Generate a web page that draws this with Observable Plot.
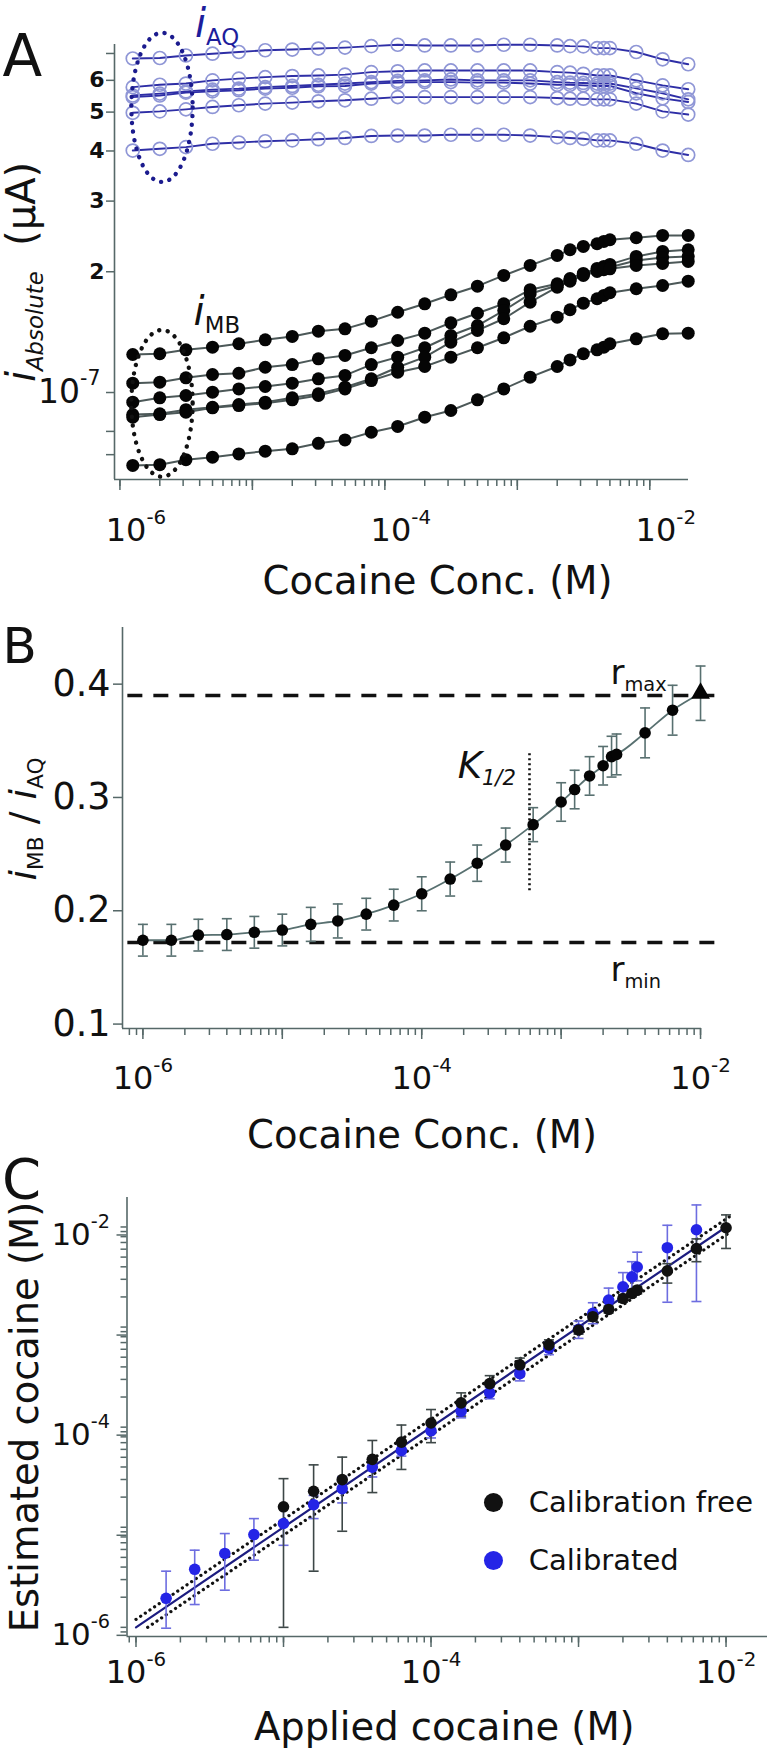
<!DOCTYPE html>
<html><head><meta charset="utf-8">
<script src="https://cdn.jsdelivr.net/npm/d3@7"></script>
<script src="https://cdn.jsdelivr.net/npm/@observablehq/plot@0.6"></script>
<style>
body{margin:0;background:#fff;}
#fig{position:relative;width:767px;height:1752px;}
#fig svg{position:absolute;left:0;overflow:visible;}
</style></head><body><div id="fig"></div>
<script>
// ---------------- Panel A data ----------------
const concA = [1.25e-6, 2e-6, 3.15e-6, 5e-6, 7.9e-6, 1.25e-5, 2e-5, 3.15e-5, 5e-5, 7.9e-5, 1.25e-4, 2e-4, 3.15e-4, 5e-4, 7.9e-4, 1.25e-3, 2e-3, 2.5e-3, 3.15e-3, 4e-3, 4.5e-3, 5e-3, 7.9e-3, 1.25e-2, 1.95e-2];
const aq1 = [6.80, 6.82, 6.92, 6.99, 7.06, 7.13, 7.16, 7.20, 7.24, 7.30, 7.36, 7.33, 7.33, 7.33, 7.36, 7.36, 7.33, 7.30, 7.29, 7.22, 7.22, 7.22, 7.06, 6.77, 6.58];
const aq2 = [5.77, 5.85, 5.89, 6.00, 6.06, 6.11, 6.15, 6.17, 6.20, 6.29, 6.32, 6.35, 6.35, 6.35, 6.35, 6.35, 6.29, 6.27, 6.23, 6.17, 6.17, 6.17, 6.00, 5.83, 5.70];
const aq3 = [5.50, 5.56, 5.63, 5.69, 5.72, 5.77, 5.81, 5.85, 5.89, 5.94, 5.98, 6.00, 6.03, 6.00, 6.00, 6.00, 5.94, 5.92, 5.91, 5.89, 5.89, 5.89, 5.73, 5.57, 5.38];
const aq4 = [5.45, 5.50, 5.59, 5.63, 5.67, 5.72, 5.75, 5.80, 5.81, 5.89, 5.92, 5.94, 5.94, 5.92, 5.92, 5.89, 5.85, 5.85, 5.83, 5.81, 5.81, 5.81, 5.57, 5.41, 5.30];
const aq5 = [4.98, 5.02, 5.08, 5.15, 5.20, 5.25, 5.28, 5.32, 5.35, 5.40, 5.45, 5.45, 5.45, 5.45, 5.45, 5.45, 5.42, 5.40, 5.40, 5.38, 5.38, 5.38, 5.25, 5.02, 4.93];
const aq6 = [4.01, 4.05, 4.09, 4.17, 4.20, 4.23, 4.25, 4.28, 4.31, 4.36, 4.37, 4.37, 4.39, 4.39, 4.39, 4.37, 4.33, 4.31, 4.29, 4.25, 4.25, 4.25, 4.17, 4.01, 3.91];
const mb1 = [1.244, 1.249, 1.278, 1.297, 1.323, 1.353, 1.380, 1.422, 1.441, 1.506, 1.585, 1.664, 1.752, 1.841, 1.958, 2.074, 2.196, 2.269, 2.313, 2.349, 2.380, 2.403, 2.431, 2.463, 2.463];
const mb2 = [1.055, 1.061, 1.088, 1.109, 1.117, 1.156, 1.174, 1.213, 1.237, 1.293, 1.348, 1.406, 1.492, 1.576, 1.664, 1.804, 1.867, 1.924, 1.981, 2.038, 2.062, 2.086, 2.184, 2.247, 2.269];
const mb3 = [0.946, 0.970, 0.983, 1.002, 1.021, 1.035, 1.055, 1.082, 1.103, 1.174, 1.225, 1.293, 1.387, 1.469, 1.601, 1.762, 1.848, 1.910, 1.969, 2.015, 2.038, 2.053, 2.134, 2.171, 2.184];
const mb4 = [0.881, 0.885, 0.906, 0.919, 0.933, 0.946, 0.970, 0.993, 1.031, 1.082, 1.156, 1.225, 1.335, 1.428, 1.527, 1.680, 1.830, 1.895, 1.958, 2.003, 2.023, 2.034, 2.074, 2.098, 2.122];
const mb5 = [0.868, 0.881, 0.893, 0.916, 0.928, 0.940, 0.959, 0.983, 1.021, 1.071, 1.124, 1.161, 1.225, 1.293, 1.369, 1.463, 1.541, 1.608, 1.670, 1.713, 1.746, 1.773, 1.814, 1.848, 1.895];
const mb6 = [0.658, 0.661, 0.680, 0.690, 0.703, 0.714, 0.724, 0.747, 0.762, 0.796, 0.823, 0.868, 0.902, 0.959, 1.021, 1.092, 1.161, 1.206, 1.249, 1.278, 1.297, 1.323, 1.361, 1.401, 1.406];
const yTicksA = [6, 5, 4, 3, 2];
const yTickA1 = [1];            // labelled "10^-7" in the original figure
const yTickLabelA1 = ["10^{-7}"];
const yMinorA = [7, 0.8, 0.7];
const xLabelTicks = [1e-6, 1e-4, 1e-2];
const xLabels = ["10^{-6}", "10^{-4}", "10^{-2}"];
const ellipseAQ = {x: [1.23e-6, 3.57e-6], y: [7.86, 3.34]};
const ellipseMB = {x: [1.23e-6, 3.57e-6], y: [1.428, 0.615]};

// ---------------- Panel B data ----------------
const concB = [1e-6, 1.6e-6, 2.5e-6, 4e-6, 6.3e-6, 1e-5, 1.6e-5, 2.5e-5, 4e-5, 6.3e-5, 1e-4, 1.6e-4, 2.5e-4, 4e-4, 6.3e-4, 1e-3, 1.25e-3, 1.6e-3, 2e-3, 2.3e-3, 2.5e-3, 4e-3, 6.3e-3, 1e-2];
const ratioB = [0.174, 0.174, 0.1785, 0.179, 0.181, 0.183, 0.188, 0.191, 0.197, 0.205, 0.215, 0.228, 0.242, 0.258, 0.276, 0.296, 0.307, 0.319, 0.328, 0.336, 0.338, 0.357, 0.377, 0.392];
const ratioErr = [0.014, 0.014, 0.014, 0.014, 0.014, 0.014, 0.015, 0.015, 0.014, 0.014, 0.015, 0.015, 0.016, 0.015, 0.015, 0.017, 0.017, 0.017, 0.017, 0.018, 0.018, 0.022, 0.022, 0.024];
const yTicksB = [0.1, 0.2, 0.3, 0.4];
const rMax = 0.39, rMin = 0.172;
const rLineX = [7.8e-7, 1.37e-2];
const kHalf = 5.93e-4, kHalfY = [0.2176, 0.3397];

// ---------------- Panel C data ----------------
const concC = [1.6e-6, 2.5e-6, 4e-6, 6.3e-6, 1e-5, 1.6e-5, 2.5e-5, 4e-5, 6.3e-5, 1e-4, 1.6e-4, 2.5e-4, 4e-4, 6.3e-4, 1e-3, 1.25e-3, 1.6e-3, 2e-3, 2.3e-3, 2.5e-3, 4e-3, 6.3e-3, 1e-2];
const freeEst = [null, null, null, null, 1.6e-5, 2.29e-5, 2.99e-5, 4.77e-5, 7.08e-5, 1.1e-4, 1.75e-4, 2.72e-4, 4.2e-4, 6.64e-4, 9.35e-4, 1.27e-3, 1.5e-3, 1.93e-3, 2.17e-3, 2.34e-3, 3.64e-3, 6.07e-3, 9.82e-3];
const freeLo = [null, null, null, null, 1e-6, 3.64e-6, 9.12e-6, 2.22e-5, 3.78e-5, 7e-5, 1.29e-4, 2.2e-4, 3.21e-4, 5.9e-4, 8.5e-4, 1.15e-3, 1.38e-3, 1.77e-3, 2.0e-3, 2.15e-3, 2.75e-3, 4.5e-3, 6.1e-3];
const freeHi = [null, null, null, null, 3.06e-5, 4.2e-5, 5.02e-5, 7.36e-5, 1.05e-4, 1.5e-4, 2.2e-4, 3.27e-4, 4.9e-4, 7.45e-4, 1.03e-3, 1.4e-3, 1.62e-3, 2.1e-3, 2.35e-3, 2.55e-3, 4.3e-3, 7.6e-3, 1.32e-2];
const calEst = [1.95e-6, 3.8e-6, 5.47e-6, 8.45e-6, 1.09e-5, 1.68e-5, 2.43e-5, 3.99e-5, 5.85e-5, 9.2e-5, 1.44e-4, 2.2e-4, 3.42e-4, 6.15e-4, 9.5e-4, 1.37e-3, 1.86e-3, 2.52e-3, 3.17e-3, 3.98e-3, 6.21e-3, 9.38e-3, null];
const calLo = [0.98e-6, 1.69e-6, 2.35e-6, 4.69e-6, 6.6e-6, 1.22e-5, 1.75e-5, 3.18e-5, 5.14e-5, 7.8e-5, 1.24e-4, 1.92e-4, 2.9e-4, 5.3e-4, 7.7e-4, 1.08e-3, 1.45e-3, 1.95e-3, 2.3e-3, 2.9e-3, 1.77e-3, 1.8e-3, null];
const calHi = [3.64e-6, 5.9e-6, 8.65e-6, 1.22e-5, 1.6e-5, 2.08e-5, 3.2e-5, 4.83e-5, 6.67e-5, 1.08e-4, 1.62e-4, 2.5e-4, 3.95e-4, 7.1e-4, 1.15e-3, 1.75e-3, 2.45e-3, 3.5e-3, 4.5e-3, 5.6e-3, 1.04e-2, 1.66e-2, null];
const identityLine = {x: [1e-6, 1e-2], y: [1e-6, 1e-2]};
const upperBound = {x: [1e-6, 1.05e-2], y: [1.2e-6, 1.26e-2]};
const lowerBound = {x: [1.2e-6, 1.05e-2], y: [1e-6, 8.75e-3]};
const legendNames = ["Calibration free", "Calibrated"];
const legendColors = ["#111111", "#2424e6"];
const legendX = 2.65e-4, legendTextX = 4.6e-4, legendY = [1.77e-5, 4.65e-6];

// ---------------- helpers ----------------
const ns = "http://www.w3.org/2000/svg";
const FONT = '"DejaVu Sans", Verdana, sans-serif';
const AXIS = "#566868";
const fig = document.getElementById("fig");
const capSymbol = {draw(ctx, size) { const r = Math.sqrt(size / Math.PI); ctx.moveTo(-r, 0); ctx.lineTo(r, 0); }};

function richify(svg) {
  svg.querySelectorAll("text").forEach(t => {
    const s = t.textContent;
    if (!/[_^]\{|\*/.test(s)) return;
    const fs = parseFloat(getComputedStyle(t).fontSize) || 20;
    const segs = [];
    let i = 0;
    while (i < s.length) {
      let mode = "base", content;
      if ((s[i] === "_" || s[i] === "^") && s[i + 1] === "{") {
        mode = s[i] === "_" ? "sub" : "sup";
        const j = s.indexOf("}", i);
        content = s.slice(i + 2, j); i = j + 1;
      } else {
        let j = i;
        while (j < s.length && !((s[j] === "_" || s[j] === "^") && s[j + 1] === "{")) j++;
        content = s.slice(i, j); i = j;
      }
      content.split(/(\*[^*]+\*)/).filter(p => p.length).forEach(p => {
        const it = p.length > 1 && p[0] === "*" && p[p.length - 1] === "*";
        segs.push({mode, it, text: it ? p.slice(1, -1) : p});
      });
    }
    while (t.firstChild) t.removeChild(t.firstChild);
    t.style.whiteSpace = "pre";
    let cur = 0;
    for (const g of segs) {
      const ts = document.createElementNS(ns, "tspan");
      const target = g.mode === "sub" ? 0.2 * fs : g.mode === "sup" ? -0.55 * fs : 0;
      ts.setAttribute("dy", target - cur); cur = target;
      if (g.mode === "sub") ts.setAttribute("font-size", 0.57 * fs);
      if (g.mode === "sup") ts.setAttribute("font-size", 0.62 * fs);
      if (g.it) ts.setAttribute("font-style", "italic");
      ts.textContent = g.text;
      t.appendChild(ts);
    }
  });
}
function scaleFn(svg, name) {
  const s = svg.scale(name);
  if (s && typeof s.apply === "function") return v => s.apply(v);
  return d3.scaleLog().domain(s.domain).range(s.range);
}
function addEllipse(svg, box, color) {
  const fx = scaleFn(svg, "x"), fy = scaleFn(svg, "y");
  const x1 = fx(box.x[0]), x2 = fx(box.x[1]), y1 = fy(box.y[0]), y2 = fy(box.y[1]);
  const e = document.createElementNS(ns, "ellipse");
  e.setAttribute("cx", (x1 + x2) / 2); e.setAttribute("cy", (y1 + y2) / 2);
  e.setAttribute("rx", Math.abs(x2 - x1) / 2); e.setAttribute("ry", Math.abs(y2 - y1) / 2);
  e.setAttribute("fill", "none"); e.setAttribute("stroke", color);
  e.setAttribute("stroke-width", 4.4); e.setAttribute("stroke-dasharray", "0.1 8.6");
  e.setAttribute("stroke-linecap", "round");
  svg.appendChild(e);
}
function place(svg, top) { svg.style.top = top + "px"; fig.appendChild(svg); richify(svg); }
function logTicks(domain) { return d3.scaleLog().domain(domain).ticks(); }
function decades(ticks) { return ticks.filter(t => Math.abs(Math.log10(t) - Math.round(Math.log10(t))) < 1e-6); }
const fmtX = d => { const k = xLabelTicks.findIndex(t => Math.abs(t - d) / t < 1e-6); return k >= 0 ? xLabels[k] : ""; };
const baseStyle = {fontFamily: FONT, background: "transparent", overflow: "visible", color: "#111"};

// ---------------- Panel A ----------------
const xDomA = [9.1e-7, 1.96e-2], yDomA = [0.607, 7.37];
const tableAQ = [aq1, aq2, aq3, aq4, aq5, aq6].flatMap((s, k) => s.map((v, i) => ({c: concA[i], v, k})));
const tableMB = [mb1, mb2, mb3, mb4, mb5, mb6].flatMap((s, k) => s.map((v, i) => ({c: concA[i], v, k})));
const ticksA = logTicks(xDomA);
const plotA = Plot.plot({
  width: 767, height: 600, marginLeft: 114, marginRight: 79, marginTop: 44, marginBottom: 121,
  x: {type: "log", domain: xDomA}, y: {type: "log", domain: yDomA},
  style: baseStyle,
  marks: [
    Plot.ruleX([xDomA[0]], {stroke: AXIS, strokeWidth: 1.6}),
    Plot.ruleY([yDomA[0]], {stroke: AXIS, strokeWidth: 1.6}),
    Plot.axisX({ticks: ticksA, tickSize: 7, tickFormat: () => "", stroke: AXIS, strokeWidth: 1.5, label: null}),
    Plot.axisX({ticks: decades(ticksA), tickSize: 11, tickFormat: () => "", stroke: AXIS, strokeWidth: 1.5, label: null}),
    Plot.text(xLabelTicks, {x: d => d, text: (d, i) => xLabels[i], frameAnchor: "bottom", dx: 16, dy: 39, lineAnchor: "top", fontSize: 32, fill: "#111"}),
    Plot.axisY({ticks: yMinorA, tickSize: 8, tickFormat: () => "", stroke: AXIS, strokeWidth: 1.5, label: null}),
    Plot.axisY({ticks: yTicksA, tickSize: 8, tickPadding: 2, tickFormat: d => String(d), stroke: AXIS, strokeWidth: 1.5, fill: "#111", fontSize: 22, fontWeight: "bold", label: null}),
    Plot.axisY({ticks: yTickA1, tickSize: 8, tickPadding: 6, tickFormat: () => yTickLabelA1[0], stroke: AXIS, strokeWidth: 1.5, fill: "#111", fontSize: 33, label: null}),
    Plot.line(tableAQ, {x: "c", y: "v", z: "k", stroke: "#2e2ea6", strokeWidth: 1.9}),
    Plot.dot(tableAQ, {x: "c", y: "v", r: 6.5, stroke: "#8f96d6", strokeWidth: 1.7, fill: "none"}),
    Plot.line(tableMB, {x: "c", y: "v", z: "k", stroke: "#4c5858", strokeWidth: 2}),
    Plot.dot(tableMB, {x: "c", y: "v", r: 6.5, fill: "#050505"}),
    Plot.text(["*i*_{AQ}"], {x: 3.68e-6, y: 7.68, textAnchor: "start", lineAnchor: "bottom", fontSize: 40, fill: "#1d1d9c"}),
    Plot.text(["*i*_{MB}"], {x: 3.6e-6, y: 1.47, textAnchor: "start", lineAnchor: "bottom", fontSize: 40, fill: "#111"}),
    Plot.text(["A"], {frameAnchor: "top-left", dx: -112, dy: 31, textAnchor: "start", lineAnchor: "bottom", fontSize: 58, fill: "#111"}),
    Plot.text(["Cocaine Conc. (M)"], {frameAnchor: "bottom", dx: 36, dy: 102, lineAnchor: "middle", fontSize: 38.5, fill: "#111"}),
    Plot.text(["*i*_{*Absolute*}  (µA)"], {frameAnchor: "left", rotate: -90, dx: -92, dy: 10, textAnchor: "middle", lineAnchor: "middle", fontSize: 40, fill: "#111"})
  ]
});
place(plotA, 0);
addEllipse(plotA, ellipseAQ, "#1b1b8e");
addEllipse(plotA, ellipseMB, "#111");

// ---------------- Panel B ----------------
const xDomB = [7.14e-7, 1.016e-2], yDomB = [0.0961, 0.45];
const tableB = concB.map((c, i) => ({c, r: ratioB[i], lo: ratioB[i] - ratioErr[i], hi: ratioB[i] + ratioErr[i]}));
const ticksB = logTicks(xDomB);
const errColB = "#587070";
const plotB = Plot.plot({
  width: 767, height: 500, marginLeft: 122, marginRight: 66, marginTop: 27, marginBottom: 72,
  x: {type: "log", domain: xDomB}, y: {domain: yDomB},
  style: baseStyle,
  marks: [
    Plot.ruleX([xDomB[0]], {stroke: AXIS, strokeWidth: 1.6}),
    Plot.ruleY([yDomB[0]], {stroke: AXIS, strokeWidth: 1.6}),
    Plot.axisX({ticks: ticksB, tickSize: 7, tickFormat: () => "", stroke: AXIS, strokeWidth: 1.5, label: null}),
    Plot.axisX({ticks: decades(ticksB), tickSize: 11, tickPadding: 27, tickFormat: fmtX, stroke: AXIS, strokeWidth: 1.5, fill: "#111", fontSize: 32, label: null}),
    Plot.axisY({ticks: yTicksB, tickSize: 9, tickPadding: 3, tickFormat: d => d.toFixed(1), stroke: AXIS, strokeWidth: 1.5, fill: "#111", fontSize: 36.5, label: null}),
    Plot.ruleY([rMax], {x1: rLineX[0], x2: rLineX[1], stroke: "#111", strokeWidth: 3.6, strokeDasharray: "15,11"}),
    Plot.ruleY([rMin], {x1: rLineX[0], x2: rLineX[1], stroke: "#111", strokeWidth: 3.6, strokeDasharray: "15,11"}),
    Plot.ruleX([kHalf], {y1: kHalfY[0], y2: kHalfY[1], stroke: "#111", strokeWidth: 2.6, strokeDasharray: "2,3"}),
    Plot.ruleX(tableB, {x: "c", y1: "lo", y2: "hi", stroke: errColB, strokeWidth: 1.6}),
    Plot.dot(tableB, {x: "c", y: "lo", symbol: capSymbol, r: 5, stroke: errColB, strokeWidth: 1.6, fill: "none"}),
    Plot.dot(tableB, {x: "c", y: "hi", symbol: capSymbol, r: 5, stroke: errColB, strokeWidth: 1.6, fill: "none"}),
    Plot.line(tableB, {x: "c", y: "r", curve: "monotone-x", stroke: errColB, strokeWidth: 1.8}),
    Plot.dot(tableB.slice(0, -1), {x: "c", y: "r", r: 5.8, fill: "#050505"}),
    Plot.dot(tableB.slice(-1), {x: "c", y: "r", r: 7, symbol: "triangle", fill: "#050505"}),
    Plot.text(["*K*_{*1/2*}"], {x: 1.81e-4, y: 0.3176, textAnchor: "start", lineAnchor: "bottom", fontSize: 37, fill: "#111"}),
    Plot.text(["r_{max}"], {x: 2.26e-3, y: 0.4003, textAnchor: "start", lineAnchor: "bottom", fontSize: 34, fill: "#111"}),
    Plot.text(["r_{min}"], {x: 2.26e-3, y: 0.138, textAnchor: "start", lineAnchor: "bottom", fontSize: 34, fill: "#111"}),
    Plot.text(["B"], {frameAnchor: "top-left", dx: -120, dy: 35, textAnchor: "start", lineAnchor: "bottom", fontSize: 50, fill: "#111"}),
    Plot.text(["Cocaine Conc. (M)"], {frameAnchor: "bottom", dx: 10, dy: 107, lineAnchor: "middle", fontSize: 38.5, fill: "#111"}),
    Plot.text(["*i*_{MB} / *i*_{AQ}"], {frameAnchor: "left", rotate: -90, dx: -99, dy: -9, textAnchor: "middle", lineAnchor: "middle", fontSize: 38, fill: "#111"})
  ]
});
place(plotB, 600);

// ---------------- Panel C ----------------
const xDomC = [8.69e-7, 1.91e-2], yDomC = [8.1e-7, 1.97e-2];
const tableFree = concC.map((c, i) => ({c, v: freeEst[i], lo: freeLo[i], hi: freeHi[i]})).filter(d => d.v != null);
const tableCal = concC.map((c, i) => ({c, v: calEst[i], lo: calLo[i], hi: calHi[i]})).filter(d => d.v != null);
const ticksCx = logTicks(xDomC), ticksCy = logTicks(yDomC);
const blackBar = "#3d4747", blueBar = "#6d6de0";
const plotC = Plot.plot({
  width: 767, height: 652, marginLeft: 126.5, marginRight: 0, marginTop: 97, marginBottom: 116,
  x: {type: "log", domain: xDomC}, y: {type: "log", domain: yDomC},
  style: baseStyle,
  marks: [
    Plot.ruleX([xDomC[0]], {stroke: AXIS, strokeWidth: 1.6}),
    Plot.ruleY([yDomC[0]], {stroke: AXIS, strokeWidth: 1.6}),
    Plot.axisX({ticks: ticksCx, tickSize: 6.5, tickFormat: () => "", stroke: AXIS, strokeWidth: 1.5, label: null}),
    Plot.axisX({ticks: decades(ticksCx), tickSize: 11, tickPadding: 13, tickFormat: fmtX, stroke: AXIS, strokeWidth: 1.5, fill: "#111", fontSize: 32, label: null}),
    Plot.axisY({ticks: ticksCy, tickSize: 6, tickFormat: () => "", stroke: AXIS, strokeWidth: 1.5, label: null}),
    Plot.axisY({ticks: decades(ticksCy), tickSize: 10, tickPadding: 7, tickFormat: fmtX, stroke: AXIS, strokeWidth: 1.5, fill: "#111", fontSize: 31, dy: 8, label: null}),
    Plot.line(identityLine.x.map((x, i) => ({x, y: identityLine.y[i]})), {x: "x", y: "y", stroke: "#1c1c80", strokeWidth: 2.2}),
    Plot.line(upperBound.x.map((x, i) => ({x, y: upperBound.y[i]})), {x: "x", y: "y", stroke: "#111", strokeWidth: 3.2, strokeDasharray: "0.1,5.5", strokeLinecap: "round"}),
    Plot.line(lowerBound.x.map((x, i) => ({x, y: lowerBound.y[i]})), {x: "x", y: "y", stroke: "#111", strokeWidth: 3.2, strokeDasharray: "0.1,5.5", strokeLinecap: "round"}),
    Plot.ruleX(tableCal, {x: "c", y1: "lo", y2: "hi", stroke: blueBar, strokeWidth: 1.6}),
    Plot.dot(tableCal, {x: "c", y: "lo", symbol: capSymbol, r: 5, stroke: blueBar, strokeWidth: 1.6, fill: "none"}),
    Plot.dot(tableCal, {x: "c", y: "hi", symbol: capSymbol, r: 5, stroke: blueBar, strokeWidth: 1.6, fill: "none"}),
    Plot.ruleX(tableFree, {x: "c", y1: "lo", y2: "hi", stroke: blackBar, strokeWidth: 1.6}),
    Plot.dot(tableFree, {x: "c", y: "lo", symbol: capSymbol, r: 5, stroke: blackBar, strokeWidth: 1.6, fill: "none"}),
    Plot.dot(tableFree, {x: "c", y: "hi", symbol: capSymbol, r: 5, stroke: blackBar, strokeWidth: 1.6, fill: "none"}),
    Plot.dot(tableCal, {x: "c", y: "v", r: 5.8, fill: legendColors[1]}),
    Plot.dot(tableFree, {x: "c", y: "v", r: 5.8, fill: legendColors[0]}),
    Plot.dot(legendNames, {x: legendX, y: (d, i) => legendY[i], r: 9.5, fill: (d, i) => legendColors[i]}),
    Plot.text(legendNames, {x: legendTextX, y: (d, i) => legendY[i], textAnchor: "start", lineAnchor: "middle", fontSize: 29, fill: "#111"}),
    Plot.text(["C"], {frameAnchor: "top-left", dx: -125, dy: 0, textAnchor: "start", lineAnchor: "bottom", fontSize: 56, fill: "#111"}),
    Plot.text(["Applied cocaine (M)"], {frameAnchor: "bottom", dx: -3, dy: 91, lineAnchor: "middle", fontSize: 38.5, fill: "#111"}),
    Plot.text(["Estimated cocaine (M)"], {frameAnchor: "left", rotate: -90, dx: -101, dy: 0, textAnchor: "middle", lineAnchor: "middle", fontSize: 38.5, fill: "#111"})
  ]
});
place(plotC, 1100);
</script></body></html>
